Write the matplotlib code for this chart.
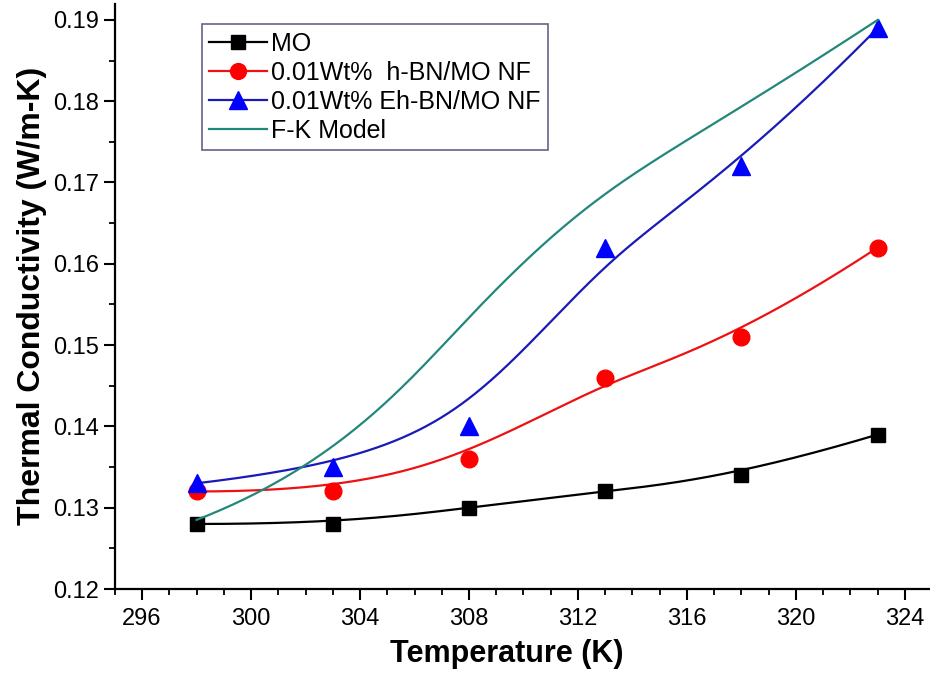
import matplotlib
matplotlib.use('Agg')
import matplotlib.pyplot as plt
from matplotlib.ticker import MultipleLocator, FormatStrFormatter
import numpy as np

# temperatures (K) and thermal conductivity (W/m-K)
temp = [298, 303, 308, 313, 318, 323]
k_mo = [0.128, 0.128, 0.130, 0.132, 0.134, 0.139]
k_hbn = [0.132, 0.132, 0.136, 0.146, 0.151, 0.162]
k_ehbn = [0.133, 0.135, 0.140, 0.162, 0.172, 0.189]
k_fk = [0.1285, 0.135, 0.154, 0.170, 0.179, 0.190]

labels = ['MO', '0.01Wt%  h-BN/MO NF', '0.01Wt% Eh-BN/MO NF', 'F-K Model']


def bspline(xs, ys, n=300, deg=3):
    # clamped uniform B-spline, the points act as control points
    P = np.column_stack([xs, ys]).astype(float)
    m = len(P)
    inner = np.arange(1, m - deg)
    knots = np.concatenate([np.zeros(deg + 1), inner, np.full(deg + 1, m - deg)])
    t = np.linspace(0, m - deg, n)
    t[-1] -= 1e-9

    def basis(i, k, t):
        if k == 0:
            return ((knots[i] <= t) & (t < knots[i + 1])).astype(float)
        out = np.zeros_like(t)
        d1 = knots[i + k] - knots[i]
        d2 = knots[i + k + 1] - knots[i + 1]
        if d1 > 0:
            out += (t - knots[i]) / d1 * basis(i, k - 1, t)
        if d2 > 0:
            out += (knots[i + k + 1] - t) / d2 * basis(i + 1, k - 1, t)
        return out

    N = np.array([basis(i, deg, t) for i in range(m)])
    C = N.T @ P
    return C[:, 0], C[:, 1]


plt.rcParams['font.family'] = ['Liberation Sans', 'DejaVu Sans']

fig = plt.figure(figsize=(9.3, 6.73), dpi=100)
ax = fig.add_axes([0.1234, 0.1248, 0.879, 0.8698])

# data, line colour, marker colour, marker, size
styles = [
    (k_mo, 'black', 'black', 's', 10.5),
    (k_hbn, '#ee1111', '#ff0000', 'o', 12),
    (k_ehbn, '#1a1ab8', '#0000ff', '^', 13),
]
for (vals, lc, mc, mk, ms), lab in zip(styles, labels):
    sx, sy = bspline(temp, vals)
    ax.plot(sx, sy, color=lc, lw=1.6)
    ax.plot(temp, vals, ls='none', marker=mk, ms=ms, color=mc)
    # legend entry: line through marker
    ax.plot([], [], color=lc, lw=1.6, marker=mk, ms=ms * 0.95, mfc=mc, mec=mc, label=lab)

sx, sy = bspline(temp, k_fk)
ax.plot(sx, sy, color='#22887a', lw=1.6, label=labels[3])

ax.set_xlim(295, 325)
ax.set_ylim(0.12, 0.192)
ax.xaxis.set_major_locator(MultipleLocator(4))
ax.xaxis.set_minor_locator(MultipleLocator(1))
ax.yaxis.set_major_locator(MultipleLocator(0.01))
ax.yaxis.set_minor_locator(MultipleLocator(0.005))
ax.yaxis.set_major_formatter(FormatStrFormatter('%.2f'))

for s in ['top', 'right']:
    ax.spines[s].set_visible(False)
for s in ['left', 'bottom']:
    ax.spines[s].set_linewidth(1.6)

ax.tick_params(which='major', direction='out', length=8, width=1.5, labelsize=17)
ax.tick_params(axis='x', which='major', pad=6)
ax.tick_params(which='minor', direction='out', length=4.5, width=1.3)

ax.set_xlabel('Temperature (K)', fontsize=22, fontweight='bold', labelpad=1)
ax.xaxis.set_label_coords(0.479, -0.085)
ax.set_ylabel('Thermal Conductivity (W/m-K)', fontsize=23, fontweight='bold', labelpad=4)

leg = ax.legend(loc='upper left', bbox_to_anchor=(0.1067, 0.965), fontsize=18,
                frameon=True, fancybox=False, edgecolor='#3a3a6a',
                handlelength=2.3, handletextpad=0.15, borderpad=0.3,
                labelspacing=0.2, borderaxespad=0)
leg.get_frame().set_linewidth(1.2)

fig.savefig('out.png', dpi=100)
